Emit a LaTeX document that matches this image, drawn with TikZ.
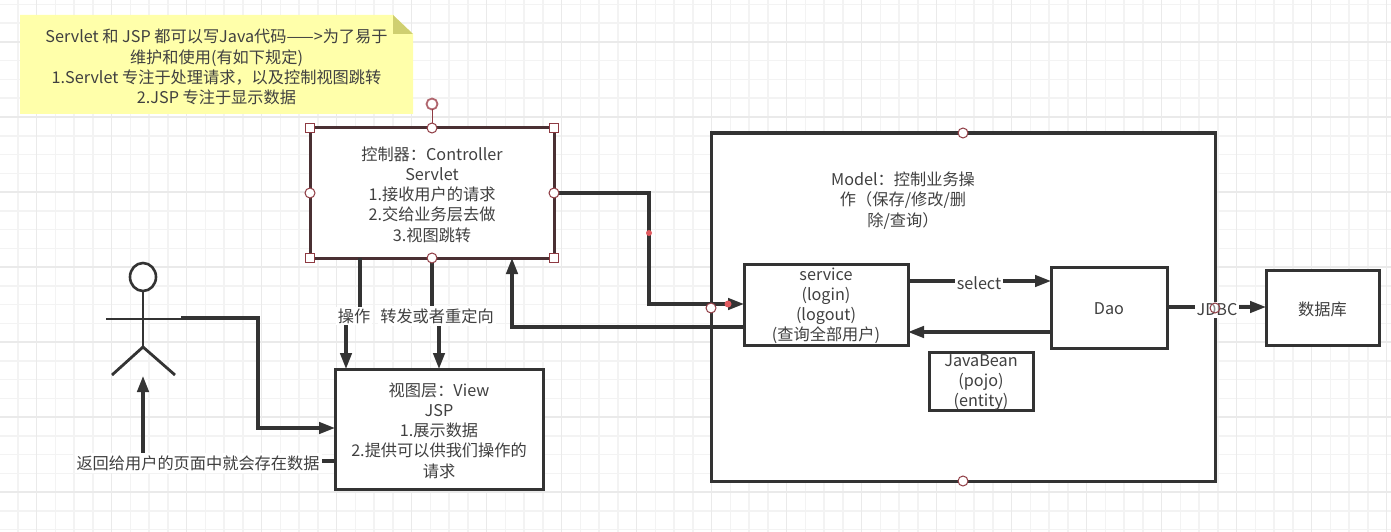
\documentclass[tikz,border=0pt]{standalone}
\usepackage{fontspec}
\setmainfont{Noto Sans CJK SC}
\usetikzlibrary{arrows.meta,shapes.geometric}
\definecolor{ink}{HTML}{333333}
\definecolor{txt}{HTML}{404040}
\definecolor{handle}{HTML}{8E3A42}
\definecolor{ringc}{HTML}{B0666E}
\definecolor{selframe}{HTML}{4A3033}
\definecolor{minorgrid}{HTML}{F3F3F3}
\definecolor{majorgrid}{HTML}{EAEAEA}
\definecolor{notefill}{HTML}{FFFFAA}
\definecolor{notefold}{HTML}{CFCF70}
\definecolor{reddot}{HTML}{E05A5F}
\tikzset{
  every node/.style={font=\fontsize{16.2}{20.2}\selectfont, text=txt, inner sep=0pt, outer sep=0pt, align=center},
  boxn/.style={draw=ink, line width=3pt, fill=white},
  lbl/.style={yshift=-1.5pt},
  conn/.style={draw=ink, line width=3.1pt, -{Triangle[length=16pt,width=11.5pt]}},
  tagn/.style={fill=white, inner sep=2pt, yshift=-1pt},
  roundh/.style={circle, draw=handle, fill=white, line width=1pt, minimum width=10pt},
  squareh/.style={rectangle, draw=handle, fill=white, line width=1pt, minimum width=9.5pt, minimum height=9.5pt},
  stick/.style={draw=ink, line width=2.8pt}
}
\begin{document}
\begin{tikzpicture}[x=1pt,y=-1pt]
\useasboundingbox (0,0) rectangle (1391,532);
\fill[white] (0,0) rectangle (1391,532);
% background grid: four fine cells to one coarse cell
\foreach \g in {0,...,74} {
  \draw[minorgrid, line width=1.5pt] ({17.75+18.75*\g},0) -- ({17.75+18.75*\g},532);
}
\foreach \g in {0,...,28} {
  \draw[minorgrid, line width=1.5pt] (0,{4.5+18.75*\g}) -- (1391,{4.5+18.75*\g});
}
\foreach \g in {0,...,18} {
  \draw[majorgrid, line width=1.5pt] ({36.5+75*\g},0) -- ({36.5+75*\g},532);
}
\foreach \g in {0,...,6} {
  \draw[majorgrid, line width=1.5pt] (0,{42+75*\g}) -- (1391,{42+75*\g});
}

% sticky note
\fill[notefill] (20,15) -- (393,15) -- (413,34) -- (413,114) -- (20,114) -- cycle;
\fill[notefold] (393,15) -- (413,34) -- (393,34) -- cycle;
\node[lbl] (note) at (216.5,65.5) {Servlet 和 JSP 都可以写Java代码——>为了易于\\维护和使用(有如下规定)\\1.Servlet 专注于处理请求，以及控制视图跳转\\2.JSP 专注于显示数据};

% model container and its inner parts
\node[boxn, minimum width=504pt, minimum height=348pt] (model) at (963,307) {};
\node[lbl] (modeltext) at (903,199) {Model：控制业务操\\作（保存/修改/删\\除/查询）};
\node[boxn, minimum width=164pt, minimum height=81pt] (service) at (826,304.5) {};
\node[lbl] (servicetext) at (service.center) {service\\(login)\\(logout)\\(查询全部用户)};
\node[boxn, minimum width=116pt, minimum height=81pt] (dao) at (1109,307.5) {};
\node[lbl] (daotext) at (dao.center) {Dao};
\node[boxn, minimum width=104pt, minimum height=58pt] (bean) at (981,381) {};
\node[lbl] (beantext) at (bean.center) {JavaBean\\(pojo)\\(entity)};
\node[boxn, minimum width=113pt, minimum height=75pt] (db) at (1322.5,307.5) {};
\node[lbl] (dbtext) at (db.center) {数据库};

% controller and view
\node[draw=selframe, line width=3pt, fill=white, minimum width=244pt, minimum height=130pt] (ctrl) at (432,193) {};
\node[lbl] (ctrltext) at (ctrl.center) {控制器：Controller\\Servlet\\1.接收用户的请求\\2.交给业务层去做\\3.视图跳转};
\node[boxn, minimum width=208pt, minimum height=120pt] (view) at (439,429) {};
\node[lbl] (viewtext) at (view.center) {视图层：View\\JSP\\1.展示数据\\2.提供可以供我们操作的\\请求};

% stick figure
\node[draw=ink, line width=2.6pt, ellipse, minimum width=26pt, minimum height=28pt, fill=white] (head) at (143,277) {};
\coordinate (hip) at (143,347);
\coordinate (handL) at (106,319);
\coordinate (handR) at (181,319);
\coordinate (wrist) at (181,318);
\coordinate (footL) at (112,375);
\coordinate (footR) at (175,375);
\coordinate (below) at (143,376);
\draw[stick] (head.south) -- (hip);
\draw[stick] (handL) -- (handR);
\draw[stick] (footL) -- (hip) -- (footR);

% connectors
\draw[conn] (wrist) -- (258,318) -- (258,428) -- (view.west |- 0,428);
\draw[conn] (view.west |- 0,461) -- (143,461) -- (below);
\draw[conn] (ctrl.south -| 360,0) -- (360,315) -- (346,315) -- (view.north -| 346,0);
\draw[conn] (ctrl.south) -- (432,315) -- (439,315) -- (view.north);
\draw[conn] (ctrl.east) -- (649,193) -- (649,304) -- (service.west |- 0,304);
\draw[conn] (service.west |- 0,327) -- (512,327) -- (ctrl.south -| 512,0);
\draw[conn] (service.east |- 0,281) -- (dao.west |- 0,281);
\draw[conn] (dao.west |- 0,332) -- (service.east |- 0,332);
\draw[conn] (dao.east |- 0,307) -- (db.west |- 0,307);

% connector labels
\node[tagn] (lreturn) at (198,462) {返回给用户的页面中就会存在数据};
\node[tagn] (lop) at (354,315) {操作};
\node[tagn] (lfwd) at (437,315) {转发或者重定向};
\node[tagn] (lsel) at (979,282) {select};
\node[tagn] (ljdbc) at (1217,309) {JDBC};

% selection handles of the controller
\node[circle, draw=ringc, fill=white, line width=1.8pt, minimum width=11pt] (rot) at (432,104) {};
\draw[handle, line width=1pt] (rot.south) -- (ctrl.north);
\foreach \a in {north west,north east,south west,south east} {
  \node[squareh] at (ctrl.\a) {};
}
\foreach \a in {north,south,east,west} {
  \node[roundh] at (ctrl.\a) {};
}
% anchor points on the model frame
\node[roundh] at (model.north) {};
\node[roundh] at (model.south) {};
\node[roundh] at (model.west |- 0,308) {};
\node[circle, draw=handle, line width=1pt, fill=white, fill opacity=0.4, minimum width=10pt] at (model.east |- 0,308) {};
% waypoint dots on the selected connector
\fill[reddot] (649,233) circle (3pt);
\fill[reddot] (728,304) circle (3.5pt);
\end{tikzpicture}
\end{document}
